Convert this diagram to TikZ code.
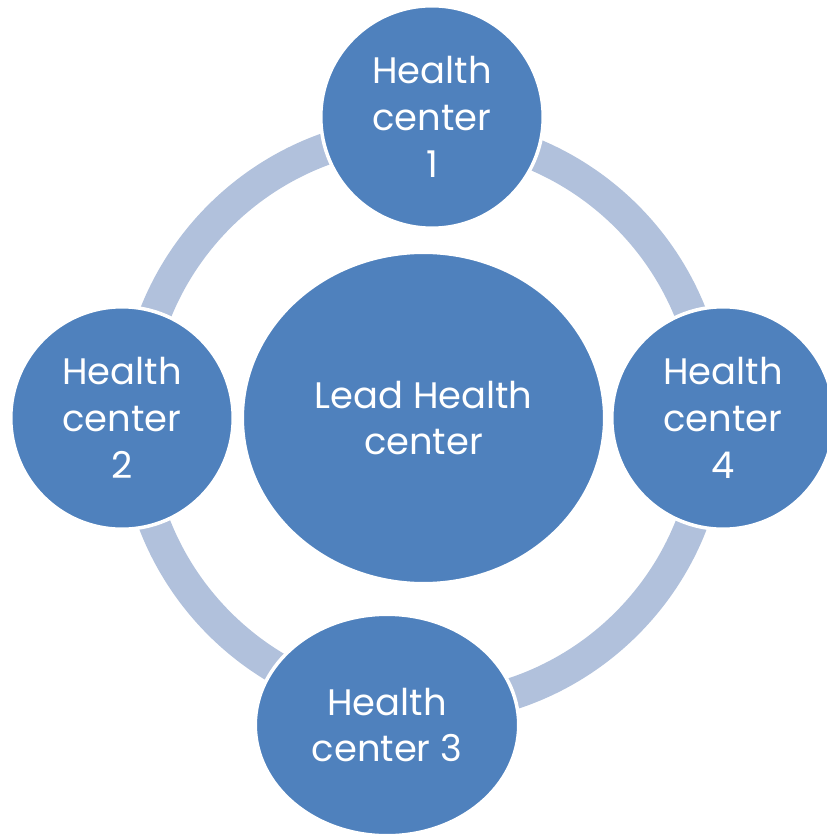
\documentclass[tikz,border=0pt]{standalone}
\usepackage{fontspec}
\setmainfont{Poppins}
\usetikzlibrary{shapes.geometric}
\definecolor{hcblue}{HTML}{4F81BD}
\definecolor{ringblue}{HTML}{B1C1DC}
\newcommand{\hcfont}{\fontsize{21}{26.7}\selectfont}
\begin{document}
\begin{tikzpicture}[x=0.02cm,y=-0.02cm,
    site/.style={circle,fill=hcblue,draw=white,line width=0.07cm,minimum size=4.45cm,
        inner sep=0pt,text=white,align=center,font=\hcfont},
    hub/.style={site,ellipse,minimum width=7.25cm,minimum height=6.63cm},
    ring/.style={draw=ringblue,line width=0.64cm}]
    \useasboundingbox (0,0) rectangle (827,834);
    % ring behind the health centers
    \draw[ring] (423,420) circle[radius=5.76cm];
    \node[hub] (lead) at (423.5,418) {Lead Health\\center};
    \foreach \n/\x/\y in {1/432/117, 2/122/418, 4/723/418}
        {
            \node[site] (hc\n) at (\x,\y) {Health\\center\\\n};
        }
    \node[site,ellipse,minimum width=5.27cm,minimum height=4.43cm] (hc3) at (387,725) {Health\\center 3};
\end{tikzpicture}
\end{document}
